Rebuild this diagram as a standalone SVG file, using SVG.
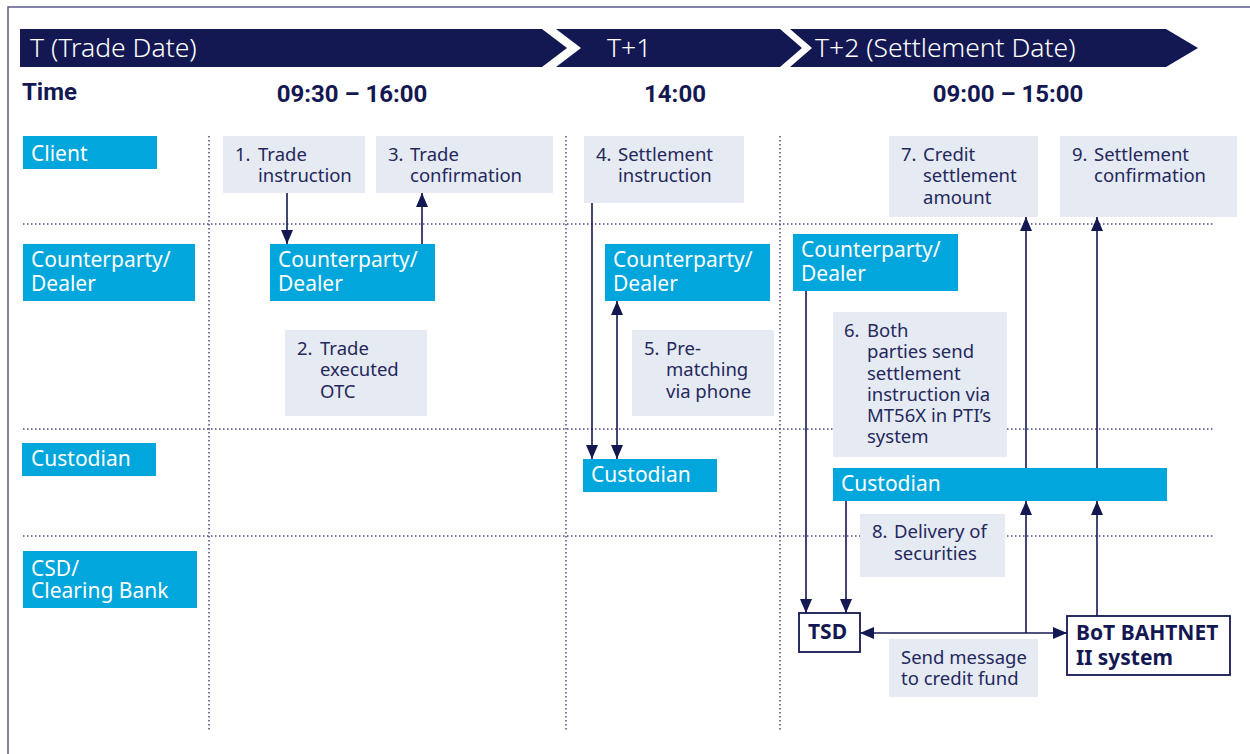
<svg xmlns="http://www.w3.org/2000/svg" width="1250" height="754" viewBox="0 0 1250 754">
<defs>
<style>
.frame{stroke:#5b5b8c;stroke-width:1.5;fill:none}
.band{fill:#141852}
.bandtxt{font-family:"Noto Sans",sans-serif;font-weight:300;font-size:26.5px;fill:#ffffff}
.hdr{font-family:Roboto,"Noto Sans",sans-serif;font-weight:700;font-size:24px;fill:#141852}
.dot{stroke:#4a4a80;stroke-width:1.5;stroke-dasharray:1.5 2.5;fill:none}
.lane{fill:#00a6dc}
.lanetxt{font-family:"Noto Sans",sans-serif;font-size:21px;fill:#ffffff}
.step{fill:#e6eaf3}
.steptxt{font-family:"Noto Sans",sans-serif;font-size:18.5px;fill:#24285c}
.sys{fill:#ffffff;stroke:#141852;stroke-width:1.8}
.systxt{font-family:"Noto Sans",sans-serif;font-weight:700;font-size:21px;fill:#141852}
.conn{stroke:#141852;stroke-width:1.6;fill:none}
</style>
<marker id="ah" viewBox="0 0 14 12" refX="14" refY="6" markerWidth="14" markerHeight="12" markerUnits="userSpaceOnUse" orient="auto-start-reverse">
<path d="M0,0 L14,6 L0,12 z" fill="#141852"/>
</marker>
</defs>
<rect width="1250" height="754" fill="#ffffff"/>
<path class="frame" d="M8,754 V7 H1250"/>

<g id="banner">
<polygon class="band" points="20,29 542,29 567,48 542,67 20,67"/>
<polygon class="band" points="556,29 780,29 802,48 780,67 556,67 581,48"/>
<polygon class="band" points="790,29 1166,29 1198,48 1166,67 790,67 812,48"/>
<text class="bandtxt" x="30" y="57">T (Trade Date)</text>
<text class="bandtxt" x="607" y="57">T+1</text>
<text class="bandtxt" x="815" y="57">T+2 (Settlement Date)</text>
</g>

<g id="times">
<text class="hdr" x="22" y="100">Time</text>
<text class="hdr" x="352" y="102" text-anchor="middle">09:30 – 16:00</text>
<text class="hdr" x="675" y="102" text-anchor="middle">14:00</text>
<text class="hdr" x="1008" y="102" text-anchor="middle">09:00 – 15:00</text>
</g>

<g id="grid">
<line class="dot" x1="209" y1="136" x2="209" y2="732"/>
<line class="dot" x1="566" y1="136" x2="566" y2="732"/>
<line class="dot" x1="780" y1="136" x2="780" y2="732"/>
<line class="dot" x1="23" y1="224" x2="1215" y2="224"/>
<line class="dot" x1="23" y1="429" x2="1215" y2="429"/>
<line class="dot" x1="23" y1="536" x2="1215" y2="536"/>
</g>

<g id="lane-client"><rect class="lane" x="23" y="136" width="134" height="33"/><text class="lanetxt" x="31" y="161">Client</text></g>
<g id="lane-counterparty"><rect class="lane" x="23" y="244" width="172" height="57"/><text class="lanetxt" x="31" y="267">Counterparty/<tspan x="31" dy="24">Dealer</tspan></text></g>
<g id="lane-custodian"><rect class="lane" x="22" y="443" width="134" height="33"/><text class="lanetxt" x="31" y="466">Custodian</text></g>
<g id="lane-csd"><rect class="lane" x="23" y="551" width="174" height="57"/><text class="lanetxt" x="31" y="576">CSD/<tspan x="31" dy="22">Clearing Bank</tspan></text></g>

<g id="step1"><rect class="step" x="223" y="136" width="142" height="57"/><text class="steptxt" x="235" y="161">1.<tspan x="258">Trade</tspan><tspan x="258" dy="21">instruction</tspan></text></g>
<g id="step3"><rect class="step" x="376" y="136" width="177" height="57"/><text class="steptxt" x="388" y="161">3.<tspan x="410">Trade</tspan><tspan x="410" dy="21">confirmation</tspan></text></g>
<g id="cp-t"><rect class="lane" x="270" y="244" width="165" height="57"/><text class="lanetxt" x="278" y="267">Counterparty/<tspan x="278" dy="24">Dealer</tspan></text></g>
<g id="step2"><rect class="step" x="285" y="330" width="142" height="86"/><text class="steptxt" x="297" y="355">2.<tspan x="320">Trade</tspan><tspan x="320" dy="21">executed</tspan><tspan x="320" dy="22">OTC</tspan></text></g>

<g id="step4"><rect class="step" x="584" y="136" width="160" height="67"/><text class="steptxt" x="596" y="161">4.<tspan x="618">Settlement</tspan><tspan x="618" dy="21">instruction</tspan></text></g>
<g id="cp-t1"><rect class="lane" x="605" y="244" width="165" height="57"/><text class="lanetxt" x="613" y="267">Counterparty/<tspan x="613" dy="24">Dealer</tspan></text></g>
<g id="step5"><rect class="step" x="632" y="330" width="142" height="86"/><text class="steptxt" x="644" y="355">5.<tspan x="666">Pre-</tspan><tspan x="666" dy="21">matching</tspan><tspan x="666" dy="22">via phone</tspan></text></g>
<g id="cust-t1"><rect class="lane" x="583" y="459" width="134" height="33"/><text class="lanetxt" x="591" y="482">Custodian</text></g>

<g id="step7"><rect class="step" x="889" y="136" width="149" height="81"/><text class="steptxt" x="901" y="161">7.<tspan x="923">Credit</tspan><tspan x="923" dy="21">settlement</tspan><tspan x="923" dy="22">amount</tspan></text></g>
<g id="step9"><rect class="step" x="1060" y="136" width="177" height="81"/><text class="steptxt" x="1072" y="161">9.<tspan x="1094">Settlement</tspan><tspan x="1094" dy="21">confirmation</tspan></text></g>
<g id="cp-t2"><rect class="lane" x="793" y="234" width="165" height="57"/><text class="lanetxt" x="801" y="257">Counterparty/<tspan x="801" dy="24">Dealer</tspan></text></g>
<g id="step6"><rect class="step" x="833" y="312" width="174" height="145"/><text class="steptxt" x="844" y="337">6.<tspan x="867">Both</tspan><tspan x="867" dy="21">parties send</tspan><tspan x="867" dy="22">settlement</tspan><tspan x="867" dy="21">instruction via</tspan><tspan x="867" dy="21">MT56X in PTI’s</tspan><tspan x="867" dy="21">system</tspan></text></g>
<g id="cust-t2"><rect class="lane" x="833" y="468" width="334" height="33"/><text class="lanetxt" x="841" y="491">Custodian</text></g>
<g id="step8"><rect class="step" x="860" y="514" width="145" height="63"/><text class="steptxt" x="872" y="538">8.<tspan x="894">Delivery of</tspan><tspan x="894" dy="22">securities</tspan></text></g>
<g id="tsd"><rect class="sys" x="799" y="613" width="61" height="39"/><text class="systxt" x="808" y="639">TSD</text></g>
<g id="bahtnet"><rect class="sys" x="1067" y="616" width="163" height="59"/><text class="systxt" x="1076" y="640">BoT BAHTNET<tspan x="1076" dy="25">II system</tspan></text></g>
<g id="msg"><rect class="step" x="889" y="639" width="149" height="58"/><text class="steptxt" x="901" y="664">Send message<tspan x="901" dy="21">to credit fund</tspan></text></g>

<g id="connectors">
<path class="conn" d="M287,193 V244" marker-end="url(#ah)"/>
<path class="conn" d="M422,244 V193" marker-end="url(#ah)"/>
<path class="conn" d="M592,203 V459" marker-end="url(#ah)"/>
<path class="conn" d="M617,301 V459" marker-start="url(#ah)" marker-end="url(#ah)"/>
<path class="conn" d="M806,291 V613" marker-end="url(#ah)"/>
<path class="conn" d="M846,501 V613" marker-end="url(#ah)"/>
<path class="conn" d="M1026,468 V217" marker-end="url(#ah)"/>
<path class="conn" d="M1026,633 V501" marker-end="url(#ah)"/>
<path class="conn" d="M1097,468 V217" marker-end="url(#ah)"/>
<path class="conn" d="M1097,616 V501" marker-end="url(#ah)"/>
<path class="conn" d="M860,633 H1067" marker-start="url(#ah)" marker-end="url(#ah)"/>
</g>
</svg>
